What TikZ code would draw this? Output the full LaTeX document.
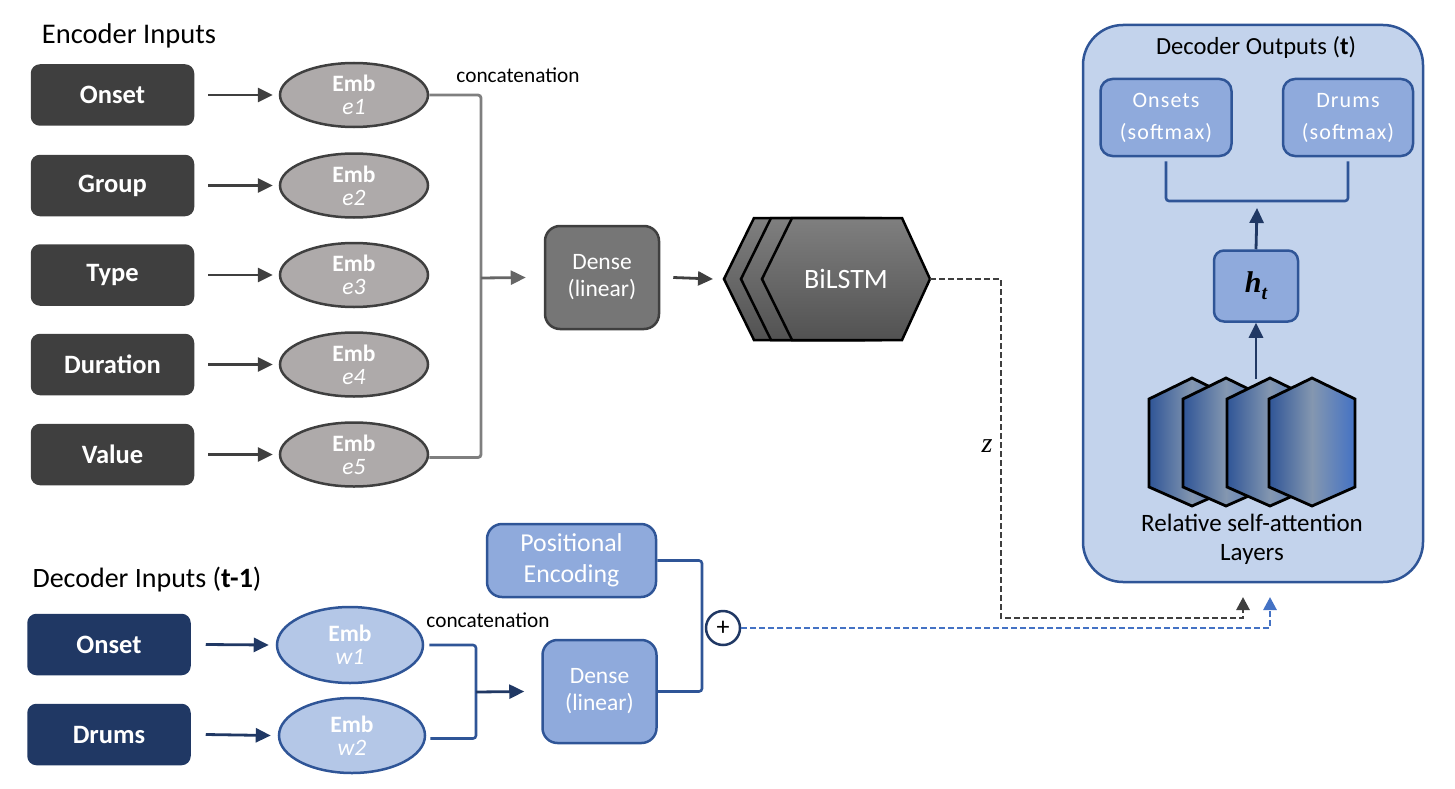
\documentclass[tikz,border=0pt]{standalone}
\usepackage{fontspec}
\setmainfont{Carlito}
\newfontfamily\serifface{Liberation Serif}
\usetikzlibrary{shapes.geometric,arrows.meta,calc}
\definecolor{dgray}{HTML}{3F3F3F}
\definecolor{embgray}{HTML}{AEAAAA}
\definecolor{densegray}{HTML}{767676}
\definecolor{brgray}{HTML}{7F7F7F}
\definecolor{navy}{HTML}{203864}
\definecolor{bborder}{HTML}{2F5597}
\definecolor{lblue}{HTML}{B4C7E7}
\definecolor{mblue}{HTML}{8FAADC}
\definecolor{bgblue}{HTML}{C3D3EC}
\definecolor{accblue}{HTML}{4472C4}
\definecolor{midgb}{HTML}{8497B0}
\definecolor{hextop}{HTML}{7F7F7F}
\definecolor{hexbot}{HTML}{525252}
\newcommand\fsz[2]{\fontsize{#1}{#2}\selectfont}
\tikzset{
  inbox/.style={draw=dgray, fill=dgray, rounded corners=8pt, minimum width=161pt, minimum height=59pt,
    text=white, font=\fsz{26.5}{28}\bfseries, line width=2.5pt},
  navybox/.style={inbox, draw=navy, fill=navy},
  embg/.style={ellipse, draw=dgray, fill=embgray, line width=2.5pt, minimum width=148pt, minimum height=64pt,
    inner sep=0pt, align=center, text=white, font=\fsz{23.5}{23}},
  embb/.style={embg, draw=bborder, fill=lblue, minimum width=146pt, minimum height=76pt},
  denseg/.style={draw=dgray, fill=densegray, rounded corners=15pt, minimum width=114pt, minimum height=103pt,
    text=white, align=center, font=\fsz{23.5}{27}, line width=2.5pt},
  denseb/.style={denseg, draw=bborder, fill=mblue},
  softbox/.style={draw=bborder, fill=mblue, rounded corners=12pt, minimum width=131pt, minimum height=77pt,
    text=white, align=center, font=\fsz{22}{32}\addfontfeature{LetterSpace=5}, line width=2.5pt},
  tip/.style={-{Triangle[length=15pt,width=14pt]}},
  arrg/.style={tip, draw=dgray, line width=2.8pt},
  arrn/.style={tip, draw=navy, line width=2.8pt},
  brk/.style={draw=brgray, line width=2.8pt, rounded corners=3pt},
  brkb/.style={draw=bborder, line width=2.6pt, rounded corners=3pt},
  dashk/.style={-{Triangle[length=13pt,width=13pt]}, draw=dgray, line width=2.8pt, dash pattern=on 6pt off 3pt},
  dashb/.style={-{Triangle[length=13pt,width=13pt]}, draw=accblue, line width=2.8pt, dash pattern=on 6pt off 3pt},
  hexg/.style={draw=black, line width=2.5pt, top color=hextop, bottom color=hexbot},
  hexb/.style={draw=black, line width=2.8pt, left color=bborder, right color=accblue, middle color=midgb},
  lab/.style={text=black, inner sep=0pt},
}
\begin{document}
\begin{tikzpicture}[x=1pt,y=-1pt]
\useasboundingbox (0,0) rectangle (1455,789);

% ---------------- Encoder -----------------
\node[lab, font=\fsz{28.5}{32}] (enclab) at (129,36) {Encoder Inputs};
\foreach \n/\t/\y in {1/Onset/95, 2/Group/185.5, 3/Type/275, 4/Duration/364.5, 5/Value/454.5} {
  \node[inbox] (in\n) at (112.5,\y) {\t};
  \node[embg] (e\n) at (354,\y) {{\bfseries Emb}\\{\itshape e\n}};
  \draw[arrg] ([xshift=14pt]in\n.east) -- ([xshift=-6pt]e\n.west);
}
\coordinate (cb) at (481,278);
\draw[brk] (e1.east) -| (cb) |- ([yshift=-3pt]e5.east);
\node[lab, font=\fsz{21.3}{22}] (concat1) at (518,75) {concatenation};
\node[denseg] (dense1) at (602,277.5) {Dense\\(linear)};
\draw[arrg, draw=brgray!80!black] (cb) -- ([xshift=-18pt]dense1.west);

% BiLSTM stack
\foreach \dx in {-38,-21,0} {
  \path[hexg] (762+\dx,279) -- (792+\dx,218) -- (902+\dx,218) -- (930+\dx,279) -- (902+\dx,340) -- (792+\dx,340) -- cycle;
}
\node[text=white, font=\fsz{28}{30}] (bil) at (846,279) {BiLSTM};
\coordinate (bL) at (724,279);
\coordinate (bR) at (930,279);
\draw[arrg] ([xshift=13pt]dense1.east) -- ([xshift=-11pt]bL);

% ---------------- Decoder outputs -----------------
\node[draw=bborder, fill=bgblue, line width=2.5pt, rounded corners=40pt, minimum width=340pt, minimum height=557pt] (dec) at (1253,303.5) {};
\node[lab, font=\fsz{24.6}{26}] (dectitle) at (1256,47) {Decoder Outputs (\textbf{t})};
\node[softbox] (ons) at (1166,117.5) {Onsets\\(softmax)};
\node[softbox, minimum width=130pt] (drm) at (1348,117.5) {Drums\\(softmax)};
\coordinate (bc) at (1257,201);
\draw[brkb] ([yshift=-4pt]ons.south) |- (bc) -| ([yshift=-4pt]drm.south);
\node[draw=bborder, fill=mblue, rounded corners=10pt, line width=2.5pt, minimum width=84pt, minimum height=71pt,
  font=\serifface\bfseries\itshape\fsz{30}{30}] (ht) at (1256,286) {h\raisebox{-7pt}{\fsz{20}{20}t}};
\draw[arrn] (ht.north) -- ([yshift=-7pt]bc);

% self-attention layers
\foreach \cx in {1192,1226,1270,1312} {
  \path[hexb] (\cx,378) -- (\cx+43,399) -- (\cx+43,487) -- (\cx,506) -- (\cx-43,487) -- (\cx-43,399) -- cycle;
}
\coordinate (lt) at (1256,379);
\draw[arrn] (lt) -- (ht.south);
\node[lab, align=center, font=\fsz{25}{29}] (layers) at (1252,539) {Relative self-attention\\Layers};

% ---------------- Decoder inputs -----------------
\node[lab, font=\fsz{28}{32}] (declab) at (147,580) {Decoder Inputs (\textbf{t-1})};
\node[navybox] (di1) at (109,644.5) {Onset};
\node[navybox] (di2) at (109,734.5) {Drums};
\node[embb] (w1) at (350,645) {{\bfseries Emb}\\{\itshape w1}};
\node[embb, minimum height=75pt] (w2) at (352,735.5) {{\bfseries Emb}\\{\itshape w2}};
\draw[arrn] ([xshift=15pt]di1.east) -- ([xshift=-7pt]w1.west);
\draw[arrn] ([xshift=15pt]di2.east) -- ([xshift=-7pt]w2.west);
\coordinate (cb2) at (476,692);
\draw[brkb] ([xshift=5pt]w1.east) -| (cb2) |- ([xshift=4pt,yshift=-3pt]w2.east);
\node[lab, font=\fsz{21.3}{22}] (concat2) at (488,620) {concatenation};
\node[denseb] (dense2) at (599.5,691.5) {Dense\\(linear)};
\draw[arrn] (cb2) -- ([xshift=-17pt]dense2.west);
\node[denseb, minimum width=169pt, minimum height=73pt, font=\fsz{25.8}{31}] (pe) at (571.5,560.5) {Positional\\Encoding};
\coordinate (pc) at (702,627);
\draw[brkb] (pe.east) -| (pc) |- (dense2.east);
\node[circle, draw=navy, fill=white, line width=2.5pt, minimum size=34pt, inner sep=0pt, font=\fsz{26}{26}] (plus) at (723,628) {+};

% ---------------- dashed links -----------------
\coordinate (zc) at (1001,618);
\coordinate (inK) at (1243,597);
\coordinate (inB) at (1270,597);
\draw[dashk] (bR) -| (zc) -| (inK);
\draw[dashb] (plus.east) -| (inB);
\node[lab, font=\serifface\itshape\fsz{28}{28}] (zlab) at (987,446) {z};
\end{tikzpicture}
\end{document}
